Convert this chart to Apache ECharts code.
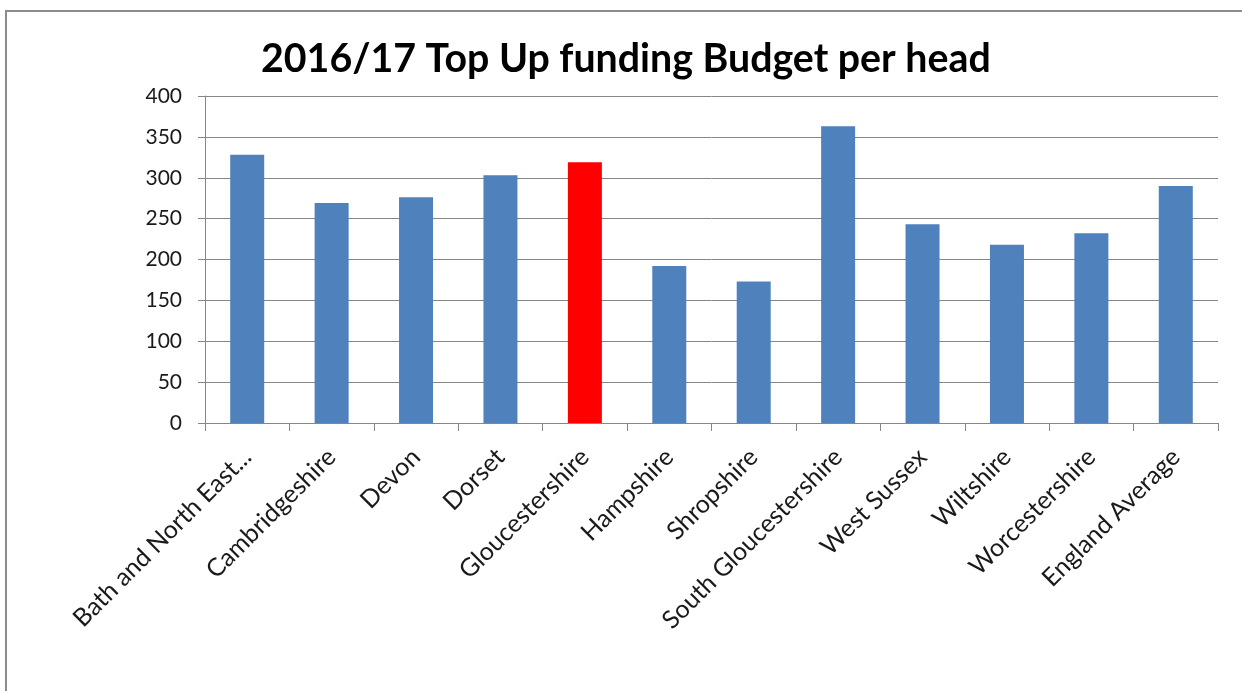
<!DOCTYPE html>
<html>
<head>
<meta charset="utf-8">
<script src="https://cdn.jsdelivr.net/npm/echarts@6/dist/echarts.min.js"></script>
<style>
  html, body { margin: 0; padding: 0; background: #ffffff; }
  #chart { width: 1242px; height: 691px; }
</style>
</head>
<body>
<div id="chart"></div>
<script>
// Top Up funding budget per head, 2016/17, by local authority
const categories = [
  'Bath and North East Somerset', 'Cambridgeshire', 'Devon', 'Dorset',
  'Gloucestershire', 'Hampshire', 'Shropshire', 'South Gloucestershire',
  'West Sussex', 'Wiltshire', 'Worcestershire', 'England Average'
];
const budgetPerHead = [328, 269, 276, 303, 319, 192, 173, 363, 243, 218, 232, 290];
const highlighted = 'Gloucestershire';
const yTicks = [0, 50, 100, 150, 200, 250, 300, 350, 400];

const BLUE = '#4F81BD';
const RED = '#FF0000';
const FONT = 'Lato, "Open Sans", sans-serif';

const chart = echarts.init(document.getElementById('chart'), null, { renderer: 'canvas' });

chart.setOption({
  backgroundColor: '#ffffff',
  animation: false,
  graphic: [{
    type: 'rect',
    shape: { x: 6, y: 11, width: 1300, height: 760 },
    style: { fill: 'none', stroke: '#8c8c8c', lineWidth: 2 },
    silent: true
  }],
  title: {
    text: '2016/17 Top Up funding Budget per head',
    left: 256,
    top: 35,
    textStyle: { fontFamily: FONT, fontWeight: 'bold', fontSize: 39.3, color: '#000000' }
  },
  grid: { left: 205, right: 24, top: 96, bottom: 268, containLabel: false },
  xAxis: {
    type: 'category',
    data: categories,
    axisLine: { lineStyle: { color: '#868686', width: 1 } },
    axisTick: { show: true, length: 8, lineStyle: { color: '#868686' } },
    axisLabel: {
      rotate: 45,
      interval: 0,
      margin: 30,
      fontFamily: FONT,
      fontSize: 25,
      color: '#1a1a1a',
      formatter: v => v.length > 22 ? v.slice(0, 19) + '...' : v
    }
  },
  yAxis: {
    type: 'value',
    min: 0,
    max: yTicks[yTicks.length - 1],
    interval: yTicks[1] - yTicks[0],
    axisLine: { show: true, lineStyle: { color: '#868686', width: 1 } },
    axisTick: { show: true, length: 7, lineStyle: { color: '#868686' } },
    splitLine: { show: true, lineStyle: { color: '#868686', width: 1 } },
    axisLabel: { margin: 23, fontFamily: FONT, fontSize: 21, color: '#1a1a1a' }
  },
  series: [{
    type: 'bar',
    barWidth: 34,
    data: budgetPerHead.map((v, i) => ({
      value: v,
      itemStyle: { color: categories[i] === highlighted ? RED : BLUE }
    }))
  }]
});
</script>
</body>
</html>
